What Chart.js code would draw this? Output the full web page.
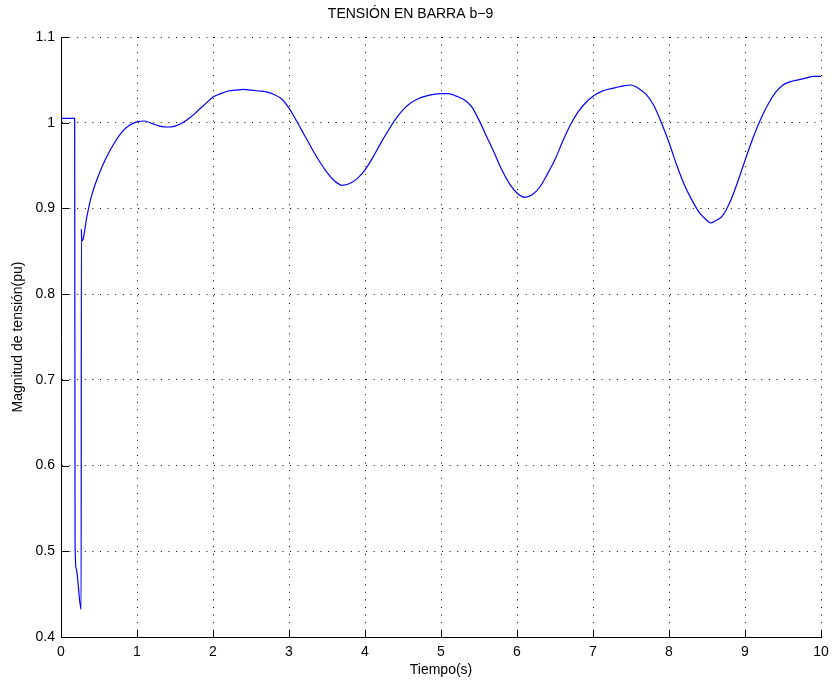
<!DOCTYPE html>
<html>
<head>
<meta charset="utf-8">
<script src="https://cdn.jsdelivr.net/npm/chart.js@4"></script>
<style>
  html, body { margin: 0; padding: 0; background: #fff; }
  #wrap { width: 836px; height: 686px; }
</style>
</head>
<body>
<div id="wrap"><canvas id="c" width="836" height="686"></canvas></div>
<script>
// Bus b-9 voltage magnitude (pu) over time (s)
const tiempo = [
  0, 0.18, 0.185, 0.2, 0.265, 0.268, 0.272, 0.29, 0.34, 0.4, 0.5, 0.6, 0.7, 0.8, 0.9,
  1.0, 1.1, 1.2, 1.3, 1.4, 1.5, 1.6, 1.7, 1.8, 1.9,
  2.0, 2.1, 2.2, 2.3, 2.4, 2.5, 2.6, 2.7, 2.8, 2.9,
  3.0, 3.1, 3.2, 3.3, 3.4, 3.5, 3.6, 3.7, 3.8, 3.9,
  4.0, 4.1, 4.2, 4.3, 4.4, 4.5, 4.6, 4.7, 4.8, 4.9,
  5.0, 5.1, 5.2, 5.3, 5.4, 5.5, 5.6, 5.7, 5.8, 5.9,
  6.0, 6.1, 6.2, 6.3, 6.4, 6.5, 6.6, 6.7, 6.8, 6.9,
  7.0, 7.1, 7.2, 7.3, 7.4, 7.5, 7.6, 7.7, 7.8, 7.9,
  8.0, 8.1, 8.2, 8.3, 8.4, 8.5, 8.55, 8.6, 8.7, 8.8, 8.9,
  9.0, 9.1, 9.2, 9.3, 9.4, 9.5, 9.6, 9.7, 9.8, 9.9, 10.0
];
const tension = [
  1.005, 1.005, 0.51, 0.48, 0.432, 0.876, 0.862, 0.864, 0.890, 0.914, 0.940, 0.960, 0.976, 0.989, 0.997,
  1.001, 1.002, 0.999, 0.996, 0.995, 0.996, 1.000, 1.006, 1.014, 1.022,
  1.030, 1.034, 1.037, 1.038, 1.039, 1.038, 1.037, 1.036, 1.033, 1.028,
  1.017, 1.002, 0.986, 0.970, 0.955, 0.942, 0.932, 0.927, 0.929, 0.935,
  0.945, 0.959, 0.975, 0.990, 1.004, 1.015, 1.023, 1.028, 1.031, 1.033,
  1.034, 1.034, 1.031, 1.027, 1.019, 1.003, 0.984, 0.965, 0.945, 0.929,
  0.918, 0.913, 0.916, 0.925, 0.940, 0.957, 0.978, 0.997, 1.012, 1.023,
  1.031, 1.036, 1.039, 1.041, 1.043, 1.044, 1.040, 1.033, 1.020, 1.000,
  0.977, 0.951, 0.928, 0.910, 0.895, 0.886, 0.883, 0.885, 0.891, 0.907, 0.930,
  0.956, 0.981, 1.003, 1.021, 1.035, 1.044, 1.048, 1.050, 1.052, 1.054, 1.054
];
const xTicks = [0, 1, 2, 3, 4, 5, 6, 7, 8, 9, 10];
const yTicks = [0.4, 0.5, 0.6, 0.7, 0.8, 0.9, 1.0, 1.1];
const yTickLabels = ['0.4', '0.5', '0.6', '0.7', '0.8', '0.9', '1', '1.1'];

const puntos = tiempo.map((t, i) => ({ x: t, y: tension[i] }));
const FONT = 'Liberation Sans, Arial, Helvetica, sans-serif';

// Inward tick marks on the left and bottom axes
const inwardTicks = {
  id: 'inwardTicks',
  afterDraw(chart) {
    const { ctx, chartArea: a, scales: { x, y } } = chart;
    ctx.save();
    ctx.strokeStyle = '#000';
    ctx.lineWidth = 1;
    ctx.beginPath();
    xTicks.forEach(v => {
      const px = Math.round(x.getPixelForValue(v)) + 0.5;
      ctx.moveTo(px, a.bottom);
      ctx.lineTo(px, a.bottom - 7);
    });
    yTicks.forEach(v => {
      const py = Math.round(y.getPixelForValue(v)) + 0.5;
      ctx.moveTo(a.left, py);
      ctx.lineTo(a.left + 8, py);
    });
    ctx.stroke();
    ctx.restore();
  }
};

new Chart(document.getElementById('c'), {
  type: 'line',
  data: {
    datasets: [{
      data: puntos,
      borderColor: '#0000ff',
      borderWidth: 1.2,
      pointRadius: 0,
      fill: false,
      cubicInterpolationMode: 'monotone'
    }]
  },
  options: {
    responsive: false,
    animation: false,
    devicePixelRatio: 1,
    layout: { padding: { left: 0, right: 15, top: 0, bottom: 0 } },
    plugins: {
      legend: { display: false },
      tooltip: { enabled: false },
      title: {
        display: true,
        text: 'TENSIÓN EN BARRA b\u22129',
        color: '#000',
        font: { family: FONT, size: 14, weight: 'normal', lineHeight: 1.2 },
        padding: { top: 6, bottom: 14.2 }
      }
    },
    scales: {
      x: {
        type: 'linear',
        min: 0,
        max: 10,
        afterBuildTicks(scale) { scale.ticks = xTicks.map(v => ({ value: v })); },
        afterFit(scale) { scale.height = 49; },
        ticks: {
          color: '#000',
          padding: 7,
          maxRotation: 0,
          font: { family: FONT, size: 14 },
          callback: v => String(v)
        },
        grid: {
          color: '#000',
          lineWidth: 1,
          drawTicks: false
        },
        border: { display: true, color: '#000', width: 1, dash: [1, 6.6] },
        title: {
          display: true,
          text: 'Tiempo(s)',
          color: '#000',
          font: { family: FONT, size: 14, lineHeight: 1.2 },
          padding: { top: 0, bottom: 7.6 }
        }
      },
      y: {
        type: 'linear',
        min: 0.4,
        max: 1.1,
        afterBuildTicks(scale) { scale.ticks = yTicks.map(v => ({ value: v })); },
        afterFit(scale) { scale.width = 61; },
        ticks: {
          color: '#000',
          padding: 6,
          font: { family: FONT, size: 14 },
          callback: (v, i) => yTickLabels[i]
        },
        grid: {
          color: '#000',
          lineWidth: 1,
          drawTicks: false
        },
        border: { display: true, color: '#000', width: 1, dash: [1, 6.6] },
        title: {
          display: true,
          text: 'Magnitud de tensión(pu)',
          color: '#000',
          font: { family: FONT, size: 14, lineHeight: 1.2 },
          padding: { top: 9.6, bottom: 0 }
        }
      }
    }
  },
  plugins: [inwardTicks]
});
</script>
</body>
</html>
